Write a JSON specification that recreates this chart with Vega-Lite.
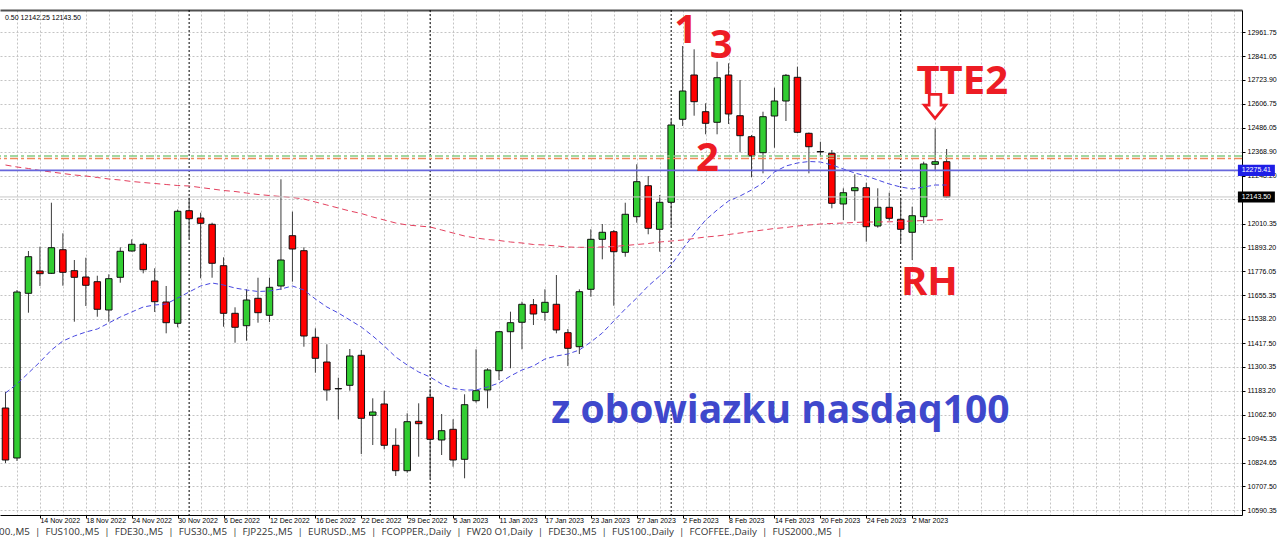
{
"$schema":"https://vega.github.io/schema/vega-lite/v6.json",
"width":1242,"height":505,
"autosize":{"type":"none"},
"padding":{"left":0,"top":10,"right":38,"bottom":29},
"background":"#ffffff",
"config":{"view":{"stroke":null},"font":"Liberation Sans"},
"title":{"text":"00.,M5 \u00a0|\u00a0 FUS100.,M5 \u00a0|\u00a0 FDE30.,M5 \u00a0|\u00a0 FUS30.,M5 \u00a0|\u00a0 FJP225.,M5 \u00a0|\u00a0 EURUSD.,M5 \u00a0|\u00a0 FCOPPER.,Daily \u00a0|\u00a0 FW20 O1,Daily \u00a0|\u00a0 FDE30.,M5 \u00a0|\u00a0 FUS100.,Daily \u00a0|\u00a0 FCOFFEE.,Daily \u00a0|\u00a0 FUS2000.,M5 \u00a0|","orient":"bottom","anchor":"start","font":"Open Sans","fontSize":9.8,"fontWeight":"normal","color":"#333333","offset":4},
"datasets":{"ohlc":[
{"d":"2022-11-09","o":11096.4,"h":11175.8,"l":10823.6,"c":10838.4,"ma20":11170.8,"ma100":12301.9},
{"d":"2022-11-10","o":10848.4,"h":11681.8,"l":10833.5,"c":11671.9,"ma20":11215.5,"ma100":12292.0},
{"d":"2022-11-11","o":11665.4,"h":11875.3,"l":11569.2,"c":11847.0,"ma20":11270.0,"ma100":12284.6},
{"d":"2022-11-14","o":11776.1,"h":11896.6,"l":11701.7,"c":11762.7,"ma20":11324.6,"ma100":12274.6},
{"d":"2022-11-15","o":11764.6,"h":12114.9,"l":11761.2,"c":11891.7,"ma20":11384.1,"ma100":12267.2},
{"d":"2022-11-16","o":11881.7,"h":11963.1,"l":11703.1,"c":11769.6,"ma20":11428.8,"ma100":12259.8},
{"d":"2022-11-17","o":11777.6,"h":11830.6,"l":11524.6,"c":11744.8,"ma20":11453.6,"ma100":12252.3},
{"d":"2022-11-18","o":11746.3,"h":11842.0,"l":11602.4,"c":11705.1,"ma20":11473.4,"ma100":12247.4},
{"d":"2022-11-21","o":11723.0,"h":11752.7,"l":11549.3,"c":11586.1,"ma20":11488.3,"ma100":12239.9},
{"d":"2022-11-22","o":11582.6,"h":11759.7,"l":11524.6,"c":11737.9,"ma20":11518.1,"ma100":12232.5},
{"d":"2022-11-23","o":11744.8,"h":11893.6,"l":11718.0,"c":11873.8,"ma20":11547.9,"ma100":12227.5},
{"d":"2022-11-24","o":11875.3,"h":11933.3,"l":11872.8,"c":11908.5,"ma20":11572.7,"ma100":12220.1},
{"d":"2022-11-25","o":11908.5,"h":11916.5,"l":11764.6,"c":11782.5,"ma20":11597.5,"ma100":12215.1},
{"d":"2022-11-28","o":11726.5,"h":11789.5,"l":11572.7,"c":11623.8,"ma20":11607.4,"ma100":12210.2},
{"d":"2022-11-29","o":11622.3,"h":11701.7,"l":11467.0,"c":11519.6,"ma20":11612.4,"ma100":12205.2},
{"d":"2022-11-30","o":11516.6,"h":12081.2,"l":11496.8,"c":12072.2,"ma20":11642.1,"ma100":12200.2},
{"d":"2022-12-01","o":12075.2,"h":12139.7,"l":11938.3,"c":12035.5,"ma20":11671.9,"ma100":12197.8},
{"d":"2022-12-02","o":12039.0,"h":12065.3,"l":11739.8,"c":12012.7,"ma20":11701.7,"ma100":12190.3},
{"d":"2022-12-05","o":12007.7,"h":12015.7,"l":11742.8,"c":11814.3,"ma20":11716.5,"ma100":12182.9},
{"d":"2022-12-06","o":11802.4,"h":11844.0,"l":11499.7,"c":11566.2,"ma20":11706.6,"ma100":12175.4},
{"d":"2022-12-07","o":11566.2,"h":11596.0,"l":11420.3,"c":11496.8,"ma20":11691.7,"ma100":12170.5},
{"d":"2022-12-08","o":11504.7,"h":11685.3,"l":11430.3,"c":11632.2,"ma20":11681.8,"ma100":12163.0},
{"d":"2022-12-09","o":11640.6,"h":11742.8,"l":11519.6,"c":11569.2,"ma20":11674.4,"ma100":12155.6},
{"d":"2022-12-12","o":11556.3,"h":11742.8,"l":11523.1,"c":11695.2,"ma20":11676.8,"ma100":12150.6},
{"d":"2022-12-13","o":11701.7,"h":12231.0,"l":11681.8,"c":11830.6,"ma20":11686.8,"ma100":12145.7},
{"d":"2022-12-14","o":11951.2,"h":12070.3,"l":11723.0,"c":11885.2,"ma20":11701.7,"ma100":12140.7},
{"d":"2022-12-15","o":11876.8,"h":11893.6,"l":11400.5,"c":11453.6,"ma20":11681.8,"ma100":12133.3},
{"d":"2022-12-16","o":11447.2,"h":11491.8,"l":11271.5,"c":11343.0,"ma20":11637.2,"ma100":12118.4},
{"d":"2022-12-19","o":11324.6,"h":11412.4,"l":11132.6,"c":11185.7,"ma20":11597.5,"ma100":12103.5},
{"d":"2022-12-20","o":11193.1,"h":11246.7,"l":11040.3,"c":11191.2,"ma20":11567.7,"ma100":12088.6},
{"d":"2022-12-21","o":11209.0,"h":11389.1,"l":11182.2,"c":11354.4,"ma20":11533.0,"ma100":12073.7},
{"d":"2022-12-22","o":11357.9,"h":11384.1,"l":10868.2,"c":11045.3,"ma20":11498.3,"ma100":12061.3},
{"d":"2022-12-23","o":11060.2,"h":11144.5,"l":10912.9,"c":11076.6,"ma20":11453.6,"ma100":12044.0},
{"d":"2022-12-27","o":11116.3,"h":11182.2,"l":10891.5,"c":10911.4,"ma20":11404.0,"ma100":12029.1},
{"d":"2022-12-28","o":10911.4,"h":10995.7,"l":10759.1,"c":10785.3,"ma20":11349.4,"ma100":12014.2},
{"d":"2022-12-29","o":10785.3,"h":11070.1,"l":10775.4,"c":11028.5,"ma20":11309.7,"ma100":12004.3},
{"d":"2022-12-30","o":11030.4,"h":11119.7,"l":10854.8,"c":11018.5,"ma20":11275.0,"ma100":11999.3},
{"d":"2023-01-03","o":11149.5,"h":11192.2,"l":10747.7,"c":10941.1,"ma20":11250.2,"ma100":11994.4},
{"d":"2023-01-04","o":10937.7,"h":11066.6,"l":10863.2,"c":10983.8,"ma20":11215.5,"ma100":11979.5},
{"d":"2023-01-05","o":10990.7,"h":11040.3,"l":10805.2,"c":10838.4,"ma20":11193.1,"ma100":11964.6},
{"d":"2023-01-06","o":10841.9,"h":11164.4,"l":10747.7,"c":11112.8,"ma20":11185.7,"ma100":11949.7},
{"d":"2023-01-09","o":11132.6,"h":11387.6,"l":11122.7,"c":11182.2,"ma20":11185.7,"ma100":11939.8},
{"d":"2023-01-10","o":11185.7,"h":11293.4,"l":11094.9,"c":11284.9,"ma20":11200.6,"ma100":11932.3},
{"d":"2023-01-11","o":11281.5,"h":11478.4,"l":11235.3,"c":11474.9,"ma20":11220.4,"ma100":11927.4},
{"d":"2023-01-12","o":11474.9,"h":11574.2,"l":11293.4,"c":11519.6,"ma20":11255.2,"ma100":11919.9},
{"d":"2023-01-13","o":11521.6,"h":11623.8,"l":11387.6,"c":11610.9,"ma20":11284.9,"ma100":11915.0},
{"d":"2023-01-16","o":11608.9,"h":11637.2,"l":11508.2,"c":11562.7,"ma20":11304.8,"ma100":11907.5},
{"d":"2023-01-17","o":11571.2,"h":11685.3,"l":11529.5,"c":11620.8,"ma20":11339.5,"ma100":11905.1},
{"d":"2023-01-18","o":11610.9,"h":11756.2,"l":11467.0,"c":11483.4,"ma20":11354.4,"ma100":11900.1},
{"d":"2023-01-19","o":11470.0,"h":11488.3,"l":11304.8,"c":11392.6,"ma20":11364.3,"ma100":11895.1},
{"d":"2023-01-20","o":11400.5,"h":11685.3,"l":11364.3,"c":11673.4,"ma20":11384.1,"ma100":11893.6},
{"d":"2023-01-23","o":11685.3,"h":11982.9,"l":11648.6,"c":11933.3,"ma20":11423.8,"ma100":11893.6},
{"d":"2023-01-24","o":11933.3,"h":12009.2,"l":11834.1,"c":11968.1,"ma20":11468.5,"ma100":11895.1},
{"d":"2023-01-25","o":11971.0,"h":11979.5,"l":11603.9,"c":11871.8,"ma20":11528.0,"ma100":11897.6},
{"d":"2023-01-26","o":11868.8,"h":12114.9,"l":11847.0,"c":12057.4,"ma20":11587.5,"ma100":11902.6},
{"d":"2023-01-27","o":12045.5,"h":12305.4,"l":12015.7,"c":12219.1,"ma20":11642.1,"ma100":11907.5},
{"d":"2023-01-30","o":12199.2,"h":12247.4,"l":11958.2,"c":11987.9,"ma20":11701.7,"ma100":11912.5},
{"d":"2023-01-31","o":11982.9,"h":12153.1,"l":11871.8,"c":12116.9,"ma20":11751.3,"ma100":11919.9},
{"d":"2023-02-01","o":12116.9,"h":12528.7,"l":11995.8,"c":12500.4,"ma20":11805.8,"ma100":11924.9},
{"d":"2023-02-02","o":12528.7,"h":12892.3,"l":12495.4,"c":12669.0,"ma20":11885.2,"ma100":11929.9},
{"d":"2023-02-03","o":12748.4,"h":12875.9,"l":12546.5,"c":12616.0,"ma20":11959.6,"ma100":11937.3},
{"d":"2023-02-06","o":12566.4,"h":12608.0,"l":12454.2,"c":12508.8,"ma20":12029.1,"ma100":11944.7},
{"d":"2023-02-07","o":12513.8,"h":12814.4,"l":12454.2,"c":12735.0,"ma20":12078.7,"ma100":11949.7},
{"d":"2023-02-08","o":12748.4,"h":12806.5,"l":12505.3,"c":12554.9,"ma20":12123.3,"ma100":11957.1},
{"d":"2023-02-09","o":12546.5,"h":12723.6,"l":12364.9,"c":12447.3,"ma20":12148.1,"ma100":11964.6},
{"d":"2023-02-10","o":12442.3,"h":12450.8,"l":12240.9,"c":12346.6,"ma20":12177.9,"ma100":11972.0},
{"d":"2023-02-13","o":12363.0,"h":12566.4,"l":12260.7,"c":12541.6,"ma20":12212.6,"ma100":11979.5},
{"d":"2023-02-14","o":12545.0,"h":12685.4,"l":12387.8,"c":12619.4,"ma20":12267.2,"ma100":11986.9},
{"d":"2023-02-15","o":12619.4,"h":12753.4,"l":12520.2,"c":12746.9,"ma20":12297.0,"ma100":11991.9},
{"d":"2023-02-16","o":12737.0,"h":12789.6,"l":12459.2,"c":12464.2,"ma20":12311.9,"ma100":11999.3},
{"d":"2023-02-17","o":12459.2,"h":12463.2,"l":12260.7,"c":12392.7,"ma20":12319.3,"ma100":12004.3},
{"d":"2023-02-20","o":12368.9,"h":12417.5,"l":12343.1,"c":12366.9,"ma20":12316.8,"ma100":12009.2},
{"d":"2023-02-21","o":12360.0,"h":12376.3,"l":12087.1,"c":12111.9,"ma20":12301.9,"ma100":12011.7},
{"d":"2023-02-22","o":12108.5,"h":12186.3,"l":12029.1,"c":12164.5,"ma20":12282.1,"ma100":12014.2},
{"d":"2023-02-23","o":12174.4,"h":12255.8,"l":12025.6,"c":12189.3,"ma20":12262.2,"ma100":12016.7},
{"d":"2023-02-24","o":12189.3,"h":12214.1,"l":11921.4,"c":11995.8,"ma20":12247.4,"ma100":12019.2},
{"d":"2023-02-27","o":11999.3,"h":12186.3,"l":11990.9,"c":12092.1,"ma20":12227.5,"ma100":12019.2},
{"d":"2023-02-28","o":12092.1,"h":12164.5,"l":12025.6,"c":12037.5,"ma20":12207.7,"ma100":12020.1},
{"d":"2023-03-01","o":12032.6,"h":12139.7,"l":11916.5,"c":11982.9,"ma20":12192.8,"ma100":12021.6},
{"d":"2023-03-02","o":11968.1,"h":12095.1,"l":11830.6,"c":12050.4,"ma20":12182.9,"ma100":12024.1},
{"d":"2023-03-03","o":12045.5,"h":12318.3,"l":12012.7,"c":12306.9,"ma20":12192.8,"ma100":12026.6},
{"d":"2023-03-06","o":12305.4,"h":12484.0,"l":12273.7,"c":12318.3,"ma20":12202.7,"ma100":12029.1},
{"d":"2023-03-07","o":12318.3,"h":12381.3,"l":12141.0,"c":12143.5,"ma20":12202.7,"ma100":12031.6}
]},
"resolve":{"axis":{"x":"independent","y":"independent"}},
"layer":[
{"data":{"name":"ohlc"},
 "transform":[{"window":[{"op":"row_number","as":"n"}],"sort":[{"field":"d"}]},
  {"timeUnit":"utcyearmonth","field":"d","as":"ym"},
  {"window":[{"op":"row_number","as":"k"}],"groupby":["ym"],"sort":[{"field":"d"}]},
  {"filter":"datum.k == 1 && datum.n > 1"}],
 "mark":{"type":"rule","color":"#000000","strokeWidth":1,"strokeDash":[2,2]},
 "encoding":{"x":{"field":"n","type":"quantitative","scale":{"domain":[0.957,108.3],"nice":false,"zero":false},"axis":null}}},
{"data":{"name":"ohlc"},
 "transform":[{"window":[{"op":"row_number","as":"n"}],"sort":[{"field":"d"}]}],
 "mark":{"type":"rule","color":"#3c3c3c","strokeWidth":1},
 "encoding":{
  "x":{"field":"n","type":"quantitative","scale":{"domain":[0.957,108.3],"nice":false,"zero":false},
   "axis":{"orient":"bottom","title":null,"grid":true,"gridColor":"#c4c4c4","gridDash":[2,2],
   "values":[2,4,6,8,10,12,14,16,18,20,22,24,26,28,30,32,34,36,38,40,42,44,46,48,50,52,54,56,58,60,62,64,66,68,70,72,74,76,78,80,82,84,86,88,90,92,94,96,98,100,102,104,106,108],
   "labelExpr":"(datum.value % 4 == 0 && datum.value <= 80) ? ['14 Nov 2022','18 Nov 2022','24 Nov 2022','30 Nov 2022','6 Dec 2022','12 Dec 2022','16 Dec 2022','22 Dec 2022','29 Dec 2022','5 Jan 2023','11 Jan 2023','17 Jan 2023','23 Jan 2023','27 Jan 2023','2 Feb 2023','8 Feb 2023','14 Feb 2023','20 Feb 2023','24 Feb 2023','2 Mar 2023'][(datum.value-4)/4] : ''",
   "tickOpacity":{"condition":{"test":"datum.value % 4 == 0 && datum.value <= 80","value":1},"value":0},
   "labelAlign":"left","labelPadding":-2,"labelFont":"Liberation Sans","labelFontSize":7,"labelColor":"#000000","tickSize":3,"tickColor":"#000000","domainColor":"#000000","labelOverlap":false,"labelFlush":false}},
  "y":{"field":"l","type":"quantitative","scale":{"domain":[10565.6,13070.9],"nice":false,"zero":false},
   "axis":{"orient":"right","title":null,"values":[12961.75,12841.05,12723.90,12606.75,12486.05,12368.90,12248.20,12131.05,12010.35,11893.20,11776.05,11655.35,11538.20,11417.50,11300.35,11183.20,11062.50,10945.35,10824.65,10707.50,10590.35],
   "labelExpr":"datum.value == 12131.05 ? '' : format(datum.value, '.2f')",
   "labelFont":"Liberation Sans","labelFontSize":7,"labelColor":"#000000","labelPadding":2,"tickSize":3,"tickColor":"#000000","domainColor":"#000000","grid":true,"gridColor":"#c4c4c4","gridDash":[2,2],"labelOverlap":false,"labelFlush":false}},
  "y2":{"field":"h"}}},
{"data":{"name":"ohlc"},
 "transform":[{"window":[{"op":"row_number","as":"n"}],"sort":[{"field":"d"}]}],
 "mark":{"type":"bar","width":6.5,"stroke":"#111111","strokeWidth":1},
 "encoding":{
  "x":{"field":"n","type":"quantitative","scale":{"domain":[0.957,108.3],"nice":false,"zero":false},
   "axis":{"orient":"top","title":null,"labels":false,"ticks":false,"grid":false,"domain":true,"domainColor":"#505050","domainWidth":2,"values":[50]}},
  "y":{"field":"o","type":"quantitative","scale":{"domain":[10565.6,13070.9],"nice":false,"zero":false},"axis":null},
  "y2":{"field":"c"},
  "fill":{"condition":{"test":"datum.c >= datum.o","value":"#32cd32"},"value":"#ff0000"}}},
{"data":{"name":"ohlc"},
 "transform":[{"window":[{"op":"row_number","as":"n"}],"sort":[{"field":"d"}]}],
 "mark":{"type":"line","color":"#4848e0","strokeWidth":1,"strokeDash":[5,3]},
 "encoding":{
  "x":{"field":"n","type":"quantitative","scale":{"domain":[0.957,108.3],"nice":false,"zero":false},"axis":null},
  "y":{"field":"ma20","type":"quantitative","scale":{"domain":[10565.6,13070.9],"nice":false,"zero":false},"axis":null}}},
{"data":{"name":"ohlc"},
 "transform":[{"window":[{"op":"row_number","as":"n"}],"sort":[{"field":"d"}]}],
 "mark":{"type":"line","color":"#e4405e","strokeWidth":1,"strokeDash":[6,4]},
 "encoding":{
  "x":{"field":"n","type":"quantitative","scale":{"domain":[0.957,108.3],"nice":false,"zero":false},"axis":null},
  "y":{"field":"ma100","type":"quantitative","scale":{"domain":[10565.6,13070.9],"nice":false,"zero":false},"axis":null}}},
{"data":{"values":[{"p":12143.5}]},
 "mark":{"type":"rule","color":"#c8c8c8","strokeWidth":1},
 "encoding":{"y":{"field":"p","type":"quantitative","scale":{"domain":[10565.6,13070.9],"nice":false,"zero":false},"axis":null}}},
{"data":{"values":[{"p":12275.41}]},
 "mark":{"type":"rule","color":"#6767dc","strokeWidth":1.8},
 "encoding":{"y":{"field":"p","type":"quantitative","scale":{"domain":[10565.6,13070.9],"nice":false,"zero":false},"axis":null}}},
{"data":{"values":[{"p":12346.6}]},
 "mark":{"type":"rule","color":"#84cc84","strokeWidth":1.6,"strokeDash":[8,3,3,3]},
 "encoding":{"y":{"field":"p","type":"quantitative","scale":{"domain":[10565.6,13070.9],"nice":false,"zero":false},"axis":null}}},
{"data":{"values":[{"p":12334.2}]},
 "mark":{"type":"rule","color":"#f08a5c","strokeWidth":1.6,"strokeDash":[8,3,3,3]},
 "encoding":{"y":{"field":"p","type":"quantitative","scale":{"domain":[10565.6,13070.9],"nice":false,"zero":false},"axis":null}}},
{"data":{"values":[{"p":12275.41}]},
 "mark":{"type":"point","shape":"M -1 -0.3 L 1 -0.3 L 1 0.3 L -1 0.3 Z","size":1369,"filled":true,"fill":"#1e1ee6","opacity":1,"strokeWidth":0},
 "encoding":{"x":{"datum":109.99,"type":"quantitative","scale":{"domain":[0.957,108.3],"nice":false,"zero":false},"axis":null},
  "y":{"field":"p","type":"quantitative","scale":{"domain":[10565.6,13070.9],"nice":false,"zero":false},"axis":null}}},
{"data":{"values":[{"p":12143.5}]},
 "mark":{"type":"point","shape":"M -1 -0.3 L 1 -0.3 L 1 0.3 L -1 0.3 Z","size":1369,"filled":true,"fill":"#000000","opacity":1,"strokeWidth":0},
 "encoding":{"x":{"datum":109.99,"type":"quantitative","scale":{"domain":[0.957,108.3],"nice":false,"zero":false},"axis":null},
  "y":{"field":"p","type":"quantitative","scale":{"domain":[10565.6,13070.9],"nice":false,"zero":false},"axis":null}}},
{"data":{"values":[{"t":"12275.41","p":12275.41},{"t":"12143.50","p":12143.5}]},
 "mark":{"type":"text","font":"Liberation Sans","fontSize":7,"color":"#ffffff","align":"center","baseline":"middle"},
 "encoding":{"x":{"datum":109.99,"type":"quantitative","scale":{"domain":[0.957,108.3],"nice":false,"zero":false},"axis":null},
  "y":{"field":"p","type":"quantitative","scale":{"domain":[10565.6,13070.9],"nice":false,"zero":false},"axis":null},
  "text":{"field":"t"}}},
{"data":{"values":[{"p":12593.0}]},
 "mark":{"type":"point","shape":"M -0.49 -1 L 0.49 -1 L 0.49 -0.1 L 0.9 -0.1 L 0 1 L -0.9 -0.1 L -0.49 -0.1 Z","size":576,"filled":true,"fill":"#ffffff","stroke":"#ed1c24","strokeWidth":2.6,"opacity":1},
 "encoding":{"x":{"datum":81.99,"type":"quantitative","scale":{"domain":[0.957,108.3],"nice":false,"zero":false},"axis":null},
  "y":{"field":"p","type":"quantitative","scale":{"domain":[10565.6,13070.9],"nice":false,"zero":false},"axis":null}}},
{"data":{"values":[{"t":"1","n":60.27,"p":12905.0},{"t":"3","n":63.36,"p":12831.3},{"t":"2","n":62.15,"p":12272.2},{"t":"TTE2","n":84.36,"p":12652.7},{"t":"RH","n":81.5,"p":11657.0}]},
 "mark":{"type":"text","font":"Open Sans","fontWeight":"bold","fontSize":40,"color":"#ed1c24","align":"center","baseline":"alphabetic"},
 "encoding":{"x":{"field":"n","type":"quantitative","scale":{"domain":[0.957,108.3],"nice":false,"zero":false},"axis":null},
  "y":{"field":"p","type":"quantitative","scale":{"domain":[10565.6,13070.9],"nice":false,"zero":false},"axis":null},
  "text":{"field":"t"}}},
{"data":{"values":[{"t":"z obowiazku nasdaq100","n":68.52,"p":11020.5}]},
 "mark":{"type":"text","font":"Open Sans","fontWeight":"bold","fontSize":39,"color":"#3f48cc","align":"center","baseline":"alphabetic"},
 "encoding":{"x":{"field":"n","type":"quantitative","scale":{"domain":[0.957,108.3],"nice":false,"zero":false},"axis":null},
  "y":{"field":"p","type":"quantitative","scale":{"domain":[10565.6,13070.9],"nice":false,"zero":false},"axis":null},
  "text":{"field":"t"}}},
{"data":{"values":[{"t":"0.50 12142.25 12143.50","n":0.96,"p":13021.3}]},
 "mark":{"type":"text","font":"Liberation Sans","fontSize":7,"color":"#000000","align":"left","baseline":"alphabetic"},
 "encoding":{"x":{"field":"n","type":"quantitative","scale":{"domain":[0.957,108.3],"nice":false,"zero":false},"axis":null},
  "y":{"field":"p","type":"quantitative","scale":{"domain":[10565.6,13070.9],"nice":false,"zero":false},"axis":null},
  "text":{"field":"t"}}}
]
}
